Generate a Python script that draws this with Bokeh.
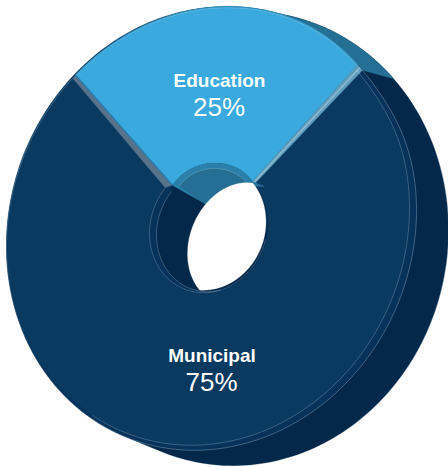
import numpy as np
from bokeh.plotting import figure
from bokeh.embed import file_html
from bokeh.resources import INLINE
from bokeh.core.properties import value

categories = ["Education", "Municipal"]
shares = [25, 75]
pct_labels = ["25%", "75%"]

BLUE, NAVY, BEVEL, DARK, TEAL = "#3aa9dd", "#0a3a60", "#07325a", "#03284a", "#246f93"
PALE = "#d5e4ee"


def ell(cx, cy, rx, ry, k, t0=0.0, t1=360.0, n=240, bump=0.0):
    deg = np.linspace(t0, t1, n)
    t = np.radians(deg)
    wrapped = (deg - 35 + 180) % 360 - 180
    return (cx + rx * np.cos(t),
            cy - ry * np.sin(t) - k * rx * np.cos(t) + bump * np.exp(-(wrapped / 18) ** 2))


def hull(x, y):
    pts = sorted(set(zip(np.round(x, 3).tolist(), np.round(y, 3).tolist())))
    def half(ps):
        out = []
        for q in ps:
            while len(out) > 1 and (out[-1][0]-out[-2][0])*(q[1]-out[-2][1]) - (out[-1][1]-out[-2][1])*(q[0]-out[-2][0]) <= 0:
                out.pop()
            out.append(q)
        return out[:-1]
    h = half(pts) + half(pts[::-1])
    return [a for a, _ in h], [b for _, b in h]


def inside(x, y, e):
    cx, cy, rx, ry, k = e
    u = (x - cx) / rx
    v = (cy - k * (x - cx) - y) / ry
    return u * u + v * v <= 1.0


OUTER = (211, 228, 205, 221, 0.09)
FACE = (207.5, 225.5, 201.5, 218.5, 0.09)
BACK = (240, 238, 208, 227, 0.04)
HOLE = (208, 227.5, 59, 64.5, 0.09)
HOLE2 = (211.5, 229.5, 55.5, 61.5, 0.09)
BACKHOLE = (238, 243, 51, 60, 0.2)
EDARC = (212, 203.5, 46, 41, 0.05)
EDLINE = (214, 204, 41, 36, 0.0)
BUMP = 6.0

span = 360 * shares[0] / sum(shares)
t_start = 42.6
t_end = t_start + span
t_in0, t_in1 = t_start + 2.0, t_end - 1.1
half_in = shares[0] / sum(shares) * 240

p = figure(width=448, height=467, x_range=(0, 448), y_range=(467, 0),
           output_backend="svg", toolbar_location=None, min_border=0,
           outline_line_color=None, background_fill_color="white", border_fill_color="white")
p.axis.visible = False
p.grid.visible = False


def fill(x, y, c):
    p.patch(list(x), list(y), fill_color=c, line_color=c, line_width=0.3)


def stroke(x, y, c=PALE, a=0.5, w=0.5):
    p.line(list(x), list(y), line_color=c, line_alpha=a, line_width=w)


# side wall
ox, oy = ell(*OUTER, bump=BUMP)
bx, by = ell(*BACK)
hx, hy = hull(np.r_[ox, bx], np.r_[oy, by])
fill(hx, hy, DARK)
a1x, a1y = ell(*OUTER, t_start, t_end, bump=BUMP)
a2x, a2y = ell(*BACK, t_start, t_end)
fill(np.r_[a1x, a2x[::-1]], np.r_[a1y, a2y[::-1]], TEAL)

# faces
fill(ox, oy, BEVEL)
fx, fy = ell(*FACE, bump=BUMP)
fill(fx, fy, NAVY)

# education slice
outx, outy = ell(*OUTER, t_in0, t_in1, bump=BUMP)
inx, iny = ell(*EDARC, 90 + half_in, 90 - half_in)
fill(np.r_[outx, inx], np.r_[outy, iny], BLUE)
stroke(outx, outy, c="#2f8fbd", a=1.0, w=1.2)
stroke(outx - 0.3, outy + 1.0, a=0.5)

# bevel strips between the slices
rx_o, ry_o = ell(*OUTER, t_start, t_in0, 2, bump=BUMP)
lx_o, ly_o = ell(*OUTER, t_in1, t_end, 2, bump=BUMP)
rb = (inx[-1], iny[-1])
lb = (inx[0], iny[0])
rn = (254.5, 183.0)
ln = (165.0, 187.5)
fill([rx_o[0], rx_o[1], rb[0], rn[0]], [ry_o[0], ry_o[1], rb[1], rn[1]], "#5f9dbe")
p.line([(rx_o[0] + rx_o[1]) / 2, (rb[0] + rn[0]) / 2], [(ry_o[0] + ry_o[1]) / 2, (rb[1] + rn[1]) / 2],
       line_color="#8dbbd2", line_width=1.4)
fill([lx_o[0], lx_o[1], ln[0], lb[0]], [ly_o[0], ly_o[1], ln[1], lb[1]], "#587289")
p.line([lx_o[0], lb[0]], [ly_o[0], lb[1]], line_color="#2b7cab", line_width=1.4)

# hole
h1x, h1y = ell(*HOLE, 137, 400)
fill(np.r_[lb[0], h1x], np.r_[lb[1], h1y], BEVEL)
h2x, h2y = ell(*HOLE2, 137, 400)
fill(np.r_[lb[0], h2x], np.r_[lb[1], h2y], DARK)
stroke(h1x[:190], h1y[:190], a=0.5)
stroke(h2x[:130], h2y[:130], a=0.55)

# inner wall of the education slice
edx, edy = ell(*EDARC, 90 - half_in, 90 + half_in)
bhx, bhy = ell(*BACKHOLE, 130, 60)
fill(np.r_[edx, bhx, edx[0]], np.r_[edy, bhy, edy[0]], "#2a80aa")
elx, ely = ell(*EDLINE, 20, 160)
tmask = ely < 186
tx = np.r_[elx[tmask], bhx]
ty = np.r_[ely[tmask], bhy]
fill(tx, ty, TEAL)
stroke(elx[tmask], ely[tmask], a=0.55)

# see-through part of the hole
a = np.radians(np.linspace(0, 360, 720))
c = (229.0, 235.0)
wx, wy = [], []
for ang in a:
    r = np.linspace(0, 100, 1001)
    xs = c[0] + r * np.cos(ang)
    ys = c[1] + r * np.sin(ang)
    ok = inside(xs, ys, BACKHOLE) & inside(xs, ys, (HOLE[0] - 0.5, HOLE[1] - 1, HOLE[2] - 1, HOLE[3] - 1.5, HOLE[4]))
    j = np.argmin(ok)
    wx.append(xs[j - 1])
    wy.append(ys[j - 1])
p.patch(wx, wy, fill_color="white", line_color="white", line_width=0.3)

# rim lines
stroke(*ell(*OUTER, -125, t_start, bump=BUMP), a=0.6)
stroke(*ell(*FACE, -125, t_start, bump=BUMP), a=0.5)
stroke(*ell(*OUTER, t_end, 235, bump=BUMP), a=0.45)
stroke(*ell(*BACK, -60, 20), a=0.35)

# labels
name_x = [219, 211.5]
name_y = [80, 355]
pct_x = [218.5, 211]
pct_y = [106, 381]
p.text(name_x, name_y, text=categories, text_color="white", text_align="center",
       text_baseline="alphabetic", text_font=value("Liberation Sans"), text_font_style="bold",
       text_font_size="19px")
p.text(pct_x, pct_y, text=pct_labels, text_color="white", text_align="center",
       text_baseline="alphabetic", text_font=value("Liberation Sans"), text_font_size="26px")

open("out.html", "w").write(file_html(p, INLINE))
